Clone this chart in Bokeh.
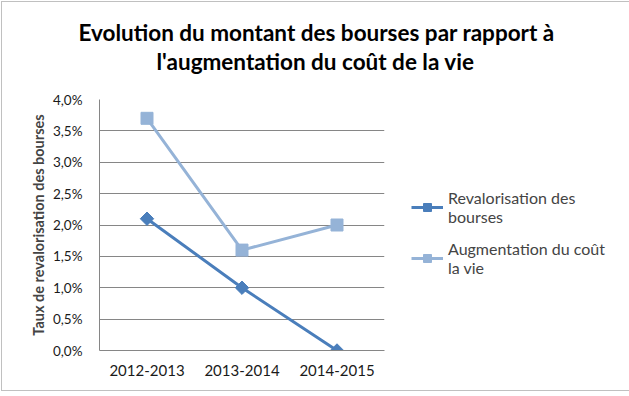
import math
from bokeh.plotting import figure
from bokeh.models import FactorRange, Range1d, FixedTicker, Legend, LegendItem, Title
from bokeh.embed import file_html
from bokeh.resources import INLINE

categories = ["2012-2013", "2013-2014", "2014-2015"]
revalorisation = [2.1, 1.0, 0.0]
cout_vie = [3.7, 1.6, 2.0]
y_ticks = [0, 0.5, 1.0, 1.5, 2.0, 2.5, 3.0, 3.5, 4.0]
y_tick_labels = ["0,0%", "0,5%", "1,0%", "1,5%", "2,0%", "2,5%", "3,0%", "3,5%", "4,0%"]
series_names = ["Revalorisation des\nbourses", "Augmentation du coût\nla vie"]
title_lines = ["Evolution du montant des bourses par rapport à",
               "l'augmentation du coût de la vie"]

FONT = "Lato"
C1 = "#4A7EBB"
C2 = "#95B3D7"
GRID = "#868686"

p = figure(frame_width=285, frame_height=251, x_range=FactorRange(*categories, range_padding=0),
           y_range=Range1d(0, 4), output_backend="svg", toolbar_location=None,
           min_border_left=97, min_border_top=97, min_border_bottom=40, min_border_right=236)
p.styles = {"border": "1px solid #C0C0C0", "margin": "1px"}

# titles stack outward from the frame: spacer, second line, first line
spacer = Title(text=" ", text_font_size="1px", standoff=22)
t2 = Title(text=title_lines[1], align="left", text_font=FONT, text_font_size="22.5px",
           text_font_style="bold", text_color="#000000", offset=57, standoff=0)
t1 = Title(text=title_lines[0], align="left", text_font=FONT, text_font_size="22.5px",
           text_font_style="bold", text_color="#000000", offset=-21, standoff=0)
p.add_layout(spacer, "above")
p.add_layout(t2, "above")
p.add_layout(t1, "above")

p.outline_line_color = None
p.xgrid.grid_line_color = None
p.ygrid.grid_line_color = GRID
p.ygrid.grid_line_width = 1

p.yaxis.ticker = FixedTicker(ticks=y_ticks)
p.yaxis.major_label_overrides = {v: s for v, s in zip(y_ticks, y_tick_labels)}
p.yaxis.axis_label = "Taux de revalorisation des bourses"
p.yaxis.axis_label_text_font = FONT
p.yaxis.axis_label_text_font_style = "bold"
p.yaxis.axis_label_text_font_size = "14.5px"
p.yaxis.axis_label_standoff = 3
for ax in (p.xaxis[0], p.yaxis[0]):
    ax.axis_line_color = GRID
    ax.major_tick_line_color = None
    ax.minor_tick_line_color = None
    ax.major_label_text_font = FONT
    ax.major_label_text_color = "#1a1a1a"
p.yaxis.major_label_text_font_size = "13.5px"
p.xaxis.major_label_text_font_size = "15px"
p.yaxis.major_label_standoff = 11
p.xaxis.major_label_standoff = 8

r1 = p.line(categories, revalorisation, line_color=C1, line_width=3)
m1 = p.scatter(categories, revalorisation, marker="square", size=9.5, angle=math.pi / 4,
               fill_color=C1, line_color=C1)
r2 = p.line(categories, cout_vie, line_color=C2, line_width=3)
m2 = p.scatter(categories, cout_vie, marker="square", size=12, fill_color=C2, line_color=C2)

legend = Legend(items=[LegendItem(label=series_names[0], renderers=[r1, m1]),
                       LegendItem(label=series_names[1], renderers=[r2, m2])],
                location=(27, 73), border_line_color=None, background_fill_alpha=0,
                label_text_font=FONT, label_text_font_size="16px", label_text_line_height=1.25,
                glyph_width=32, glyph_height=20, label_standoff=5,
                padding=0, margin=0, spacing=13)
p.add_layout(legend, "right")

open("out.html", "w").write(file_html(p, INLINE))
